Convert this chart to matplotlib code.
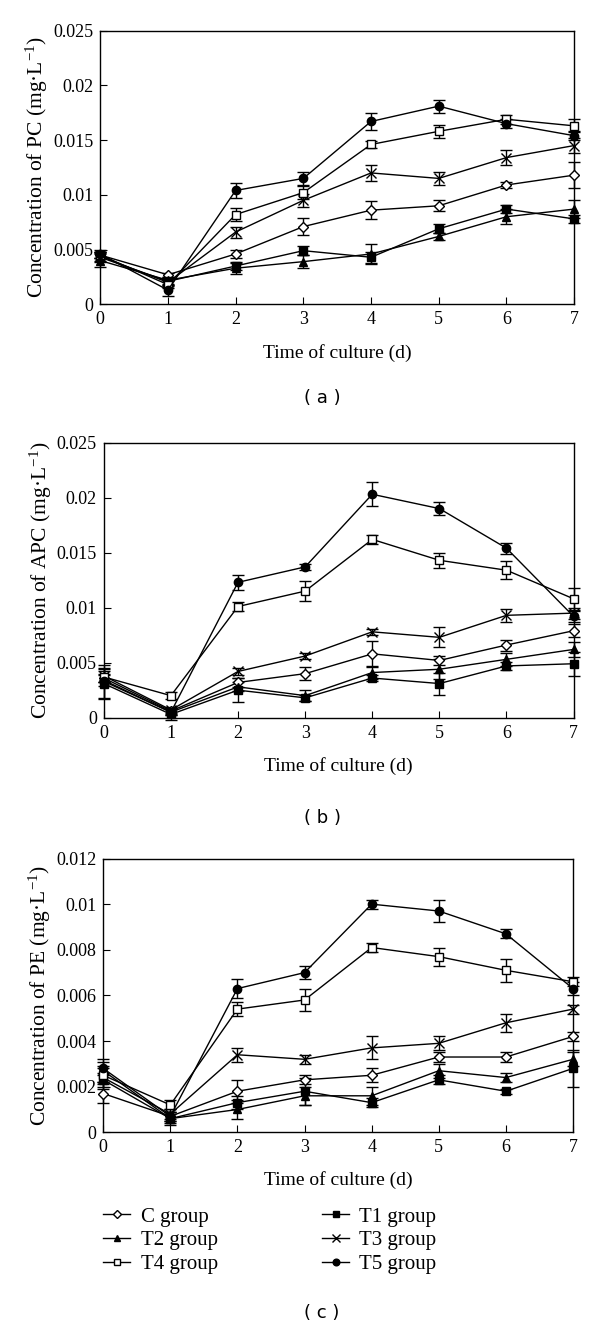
import numpy as np
import matplotlib
matplotlib.use("Agg")
import matplotlib.pyplot as plt
from matplotlib.lines import Line2D
from matplotlib.ticker import FormatStrFormatter

plt.rcParams['font.family'] = ['Liberation Serif', 'DejaVu Serif']
plt.rcParams['mathtext.fontset'] = 'custom'
plt.rcParams['mathtext.rm'] = 'Liberation Serif'
plt.rcParams['mathtext.it'] = 'Liberation Serif:italic'

days = [0, 1, 2, 3, 4, 5, 6, 7]
groups = ['C group', 'T1 group', 'T2 group', 'T3 group', 'T4 group', 'T5 group']

# (a) PC
pc_c = [0.0045, 0.0027, 0.0046, 0.0071, 0.0086, 0.0090, 0.0109, 0.0118]
pc_t1 = [0.0043, 0.0021, 0.0035, 0.0049, 0.0043, 0.0069, 0.0087, 0.0078]
pc_t2 = [0.0040, 0.0022, 0.0033, 0.0039, 0.0046, 0.0062, 0.0080, 0.0087]
pc_t3 = [0.0044, 0.0020, 0.0066, 0.0095, 0.0120, 0.0115, 0.0134, 0.0145]
pc_t4 = [0.0045, 0.0018, 0.0082, 0.0102, 0.0146, 0.0158, 0.0169, 0.0163]
pc_t5 = [0.0046, 0.0013, 0.0104, 0.0115, 0.0167, 0.0181, 0.0165, 0.0154]
pc_err_c = [0.0003, 0.0002, 0.0004, 0.0008, 0.0008, 0.0005, 0.0003, 0.0012]
pc_err_t1 = [0.0004, 0.0003, 0.0004, 0.0004, 0.0005, 0.0004, 0.0004, 0.0004]
pc_err_t2 = [0.0006, 0.0003, 0.0005, 0.0006, 0.0009, 0.0003, 0.0007, 0.0008]
pc_err_t3 = [0.0004, 0.0003, 0.0005, 0.0006, 0.0007, 0.0006, 0.0007, 0.0007]
pc_err_t4 = [0.0003, 0.0003, 0.0006, 0.0006, 0.0003, 0.0006, 0.0004, 0.0006]
pc_err_t5 = [0.0004, 0.0005, 0.0007, 0.0006, 0.0008, 0.0006, 0.0004, 0.0004]

# (b) APC
apc_c = [0.0036, 0.0006, 0.0032, 0.0040, 0.0058, 0.0052, 0.0066, 0.0079]
apc_t1 = [0.0031, 0.0003, 0.0025, 0.0018, 0.0036, 0.0031, 0.0047, 0.0049]
apc_t2 = [0.0034, 0.0005, 0.0028, 0.0020, 0.0041, 0.0044, 0.0053, 0.0062]
apc_t3 = [0.0038, 0.0007, 0.0042, 0.0056, 0.0078, 0.0073, 0.0093, 0.0095]
apc_t4 = [0.0037, 0.0020, 0.0101, 0.0115, 0.0162, 0.0143, 0.0134, 0.0108]
apc_t5 = [0.0033, 0.0005, 0.0123, 0.0137, 0.0203, 0.0190, 0.0154, 0.0092]
apc_err_c = [0.0004, 0.0003, 0.0004, 0.0006, 0.0012, 0.0004, 0.0005, 0.0006]
apc_err_t1 = [0.0014, 0.0005, 0.0011, 0.0003, 0.0003, 0.0010, 0.0004, 0.0011]
apc_err_t2 = [0.0005, 0.0003, 0.0004, 0.0005, 0.0006, 0.0009, 0.0006, 0.0007]
apc_err_t3 = [0.0006, 0.0003, 0.0003, 0.0003, 0.0003, 0.0009, 0.0006, 0.0005]
apc_err_t4 = [0.0005, 0.0003, 0.0004, 0.0009, 0.0004, 0.0007, 0.0008, 0.0010]
apc_err_t5 = [0.0015, 0.0003, 0.0007, 0.0003, 0.0011, 0.0006, 0.0005, 0.0005]

# (c) PE
pe_c = [0.0017, 0.0007, 0.0018, 0.0023, 0.0025, 0.0033, 0.0033, 0.0042]
pe_t1 = [0.0023, 0.0006, 0.0013, 0.0018, 0.0013, 0.0023, 0.0018, 0.0028]
pe_t2 = [0.0027, 0.0006, 0.0010, 0.0016, 0.0016, 0.0027, 0.0024, 0.0032]
pe_t3 = [0.0024, 0.0008, 0.0034, 0.0032, 0.0037, 0.0039, 0.0048, 0.0054]
pe_t4 = [0.0025, 0.0012, 0.0054, 0.0058, 0.0081, 0.0077, 0.0071, 0.0066]
pe_t5 = [0.0028, 0.0007, 0.0063, 0.0070, 0.0100, 0.0097, 0.0087, 0.0063]
pe_err_c = [0.0004, 0.0002, 0.0005, 0.0002, 0.0003, 0.0002, 0.0002, 0.0002]
pe_err_t1 = [0.0003, 0.0002, 0.0003, 0.0006, 0.0002, 0.0002, 0.0001, 0.0008]
pe_err_t2 = [0.0005, 0.0003, 0.0004, 0.0004, 0.0004, 0.0003, 0.0002, 0.0003]
pe_err_t3 = [0.0005, 0.0002, 0.0003, 0.0002, 0.0005, 0.0003, 0.0004, 0.0002]
pe_err_t4 = [0.0003, 0.0002, 0.0003, 0.0005, 0.0002, 0.0004, 0.0005, 0.0002]
pe_err_t5 = [0.0003, 0.0002, 0.0004, 0.0003, 0.0002, 0.0005, 0.0002, 0.0003]

# marker, face colour, size per group
styles = [('D', 'white', 5), ('s', 'black', 5.5), ('^', 'black', 6),
          ('x', 'black', 7), ('s', 'white', 5.5), ('o', 'black', 6)]

panels = [
    ('PC', [pc_c, pc_t1, pc_t2, pc_t3, pc_t4, pc_t5],
     [pc_err_c, pc_err_t1, pc_err_t2, pc_err_t3, pc_err_t4, pc_err_t5],
     0.025, 0.005, 'a', [0.167, 0.771, 0.790, 0.206], 398),
    ('APC', [apc_c, apc_t1, apc_t2, apc_t3, apc_t4, apc_t5],
     [apc_err_c, apc_err_t1, apc_err_t2, apc_err_t3, apc_err_t4, apc_err_t5],
     0.025, 0.005, 'b', [0.173, 0.460, 0.783, 0.207], 818),
    ('PE', [pe_c, pe_t1, pe_t2, pe_t3, pe_t4, pe_t5],
     [pe_err_c, pe_err_t1, pe_err_t2, pe_err_t3, pe_err_t4, pe_err_t5],
     0.012, 0.002, 'c', [0.172, 0.148, 0.783, 0.206], 1313),
]

fig = plt.figure(figsize=(6, 13.29), dpi=100)
H = 1329.0

for name, series, errs, ymax, ystep, tag, rect, ytag in panels:
    ax = fig.add_axes(rect)
    for i in range(len(groups)):
        m, fc, ms = styles[i]
        ax.errorbar(days, series[i], yerr=errs[i], color='black', lw=1.0,
                    marker=m, mfc=fc, mec='black', ms=ms, mew=1.0,
                    capsize=4, elinewidth=1.0, capthick=1.0,
                    clip_on=False, zorder=3)
    ax.set_xlim(0, 7)
    ax.set_ylim(0, ymax)
    ax.set_xticks(days)
    ax.set_yticks(np.arange(0, ymax + ystep / 2, ystep))
    ax.yaxis.set_major_formatter(FormatStrFormatter('%g'))
    ax.tick_params(direction='in', length=5, labelsize=13, top=False, right=False, pad=5)
    for s in ax.spines.values():
        s.set_linewidth(1.0)
    ax.set_xlabel('Time of culture (d)', fontsize=14, labelpad=11)
    ax.set_ylabel('Concentration of %s (mg·L$^{-1}$)' % name, fontsize=15.5, labelpad=2)

    fig.text(322 / 600, 1 - ytag / H, '( %s )' % tag, family='DejaVu Sans',
             fontsize=13, ha='center', va='center')

# legend proxies (marker on a short line, no error bars)
proxies = []
for i in range(len(groups)):
    m, fc, ms = styles[i]
    proxies.append(Line2D([], [], color='black', lw=1.0, marker=m, mfc=fc,
                          mec='black', ms=ms * 0.8, mew=1.0))

order = [0, 2, 4, 1, 3, 5]
fig.legend([proxies[k] for k in order], [groups[k] for k in order],
           loc='upper left', bbox_to_anchor=(0.172, 1 - 1207 / H), ncol=2, frameon=False,
           fontsize=15, handlelength=1.3, handletextpad=0.5, columnspacing=5.0,
           labelspacing=0.2, borderpad=0, borderaxespad=0)

fig.savefig('out.png', dpi=100)
